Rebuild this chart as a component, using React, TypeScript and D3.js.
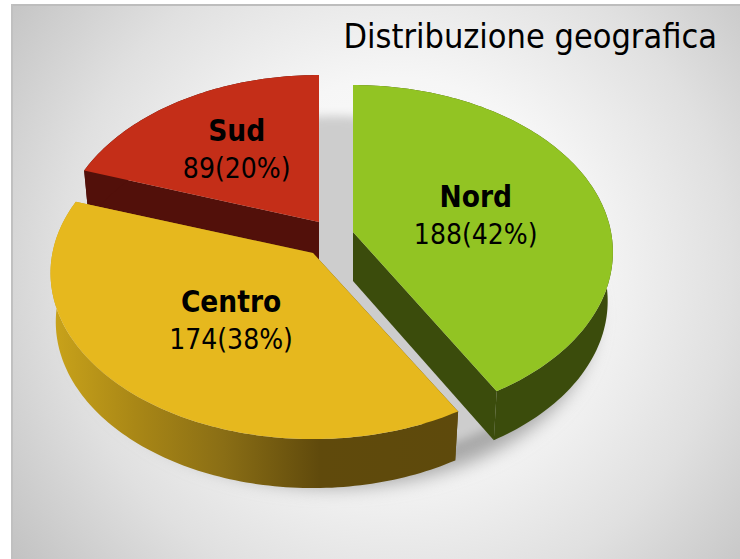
import React from "react";
import * as d3 from "d3";

const categories = ["Nord", "Centro", "Sud"];
const values = [188, 174, 89];
const percents = [42, 38, 20];
const topColors = ["#92c423", "#e6b81e", "#c42e18"];
const sideColors = ["#3b4c0c", "url(#centroSide)", "#52100a"];

const width = 740;
const height = 559;

// where each exploded slice sits on the page (apex, size, label distance)
const layout = [
  { cx: 353, cy: 232, scale: 1, sy: 1, labelR: 0.5, labelDx: 0, labelDy: 3.5, order: 1 },
  { cx: 313, cy: 253, scale: 1.01, sy: 0.985, labelR: 0.5, labelDx: 5, labelDy: 0.5, order: 2 },
  { cx: 319, cy: 222, scale: 1, sy: 1, labelR: 0.58, labelDx: 0, labelDy: 0.5, order: 0 },
];

const R = 258;
const S = 164.6;
const K = 0.12;
const DEPTH = 49;

type Pose = { cx: number; cy: number; scale: number; sy: number };

// disc coordinates -> page, with a bit of perspective (far edge is smaller)
const project = (a: number, r: number, z: number, l: Pose): [number, number] => {
  const u = Math.sin(a) * r;
  const v = Math.cos(a) * r;
  const w = 1 + K * v;
  return [
    l.cx + (l.scale * R * u * (1 - 0.02 * z)) / w,
    l.cy - (l.scale * l.sy * S * v) / w + DEPTH * z,
  ];
};

const line = d3.line<[number, number]>();

const arcAngles = (a0: number, a1: number) => {
  const n = Math.ceil(Math.abs(a1 - a0) / 0.02);
  const t = d3.scaleLinear().domain([0, n]).range([a0, a1]);
  return d3.range(n + 1).map((i) => t(i));
};

const App = () => {
  const pie = d3.pie<number>().sort(null).startAngle(0).endAngle(2 * Math.PI);
  const slices = pie(values).map((d, i) => ({ ...d, i, l: layout[i] }));
  const drawOrder = [...slices].sort((a, b) => a.l.order - b.l.order);

  const topPath = (s: (typeof slices)[number]) => {
    const pts = arcAngles(s.startAngle, s.endAngle).map((a) => project(a, 1, 0, s.l));
    return line([project(0, 0, 0, s.l), ...pts]) + "Z";
  };
  const outerWall = (s: (typeof slices)[number]) => {
    const angles = arcAngles(s.startAngle, s.endAngle);
    const up = angles.map((a) => project(a, 1, 0, s.l));
    const down = angles.map((a) => project(a, 1, 1, s.l)).reverse();
    return line([...up, ...down]) + "Z";
  };
  const radialWall = (s: (typeof slices)[number], a: number) =>
    line([project(0, 0, 0, s.l), project(a, 1, 0, s.l), project(a, 1, 1, s.l), project(0, 0, 1, s.l)]) + "Z";

  const ring = arcAngles(0, 2 * Math.PI);
  const ringPath = (z: number, pose: Pose) => line(ring.map((a) => project(a, 1, z, pose))) + "Z";
  const darkPose = { cx: 334, cy: 236, scale: 1.03, sy: 1 };
  const lightPose = { cx: 334, cy: 236, scale: 1.0, sy: 1 };

  return (
    <svg
      width={width}
      height={height}
      viewBox={`0 0 ${width} ${height}`}
      style={{ position: "absolute", left: 0, top: 0, background: "#fff" }}
    >
      <defs>
        <radialGradient id="panelBg" gradientUnits="userSpaceOnUse" cx={395} cy={270} r={480}>
          <stop offset="0" stopColor="#ffffff" />
          <stop offset="0.4" stopColor="#f6f6f6" />
          <stop offset="0.7" stopColor="#e0e0e0" />
          <stop offset="1" stopColor="#c2c2c2" />
        </radialGradient>
        <linearGradient id="centroSide" gradientUnits="userSpaceOnUse" x1={55} x2={456} y1={0} y2={0}>
          <stop offset="0" stopColor="#c8a21a" />
          <stop offset="0.2" stopColor="#a98716" />
          <stop offset="0.42" stopColor="#8a6e15" />
          <stop offset="0.66" stopColor="#604a0c" />
          <stop offset="1" stopColor="#5e4a0c" />
        </linearGradient>
        <filter id="soft" x="-20%" y="-20%" width="140%" height="140%">
          <feGaussianBlur stdDeviation="9" />
        </filter>
        <filter id="softer" x="-20%" y="-20%" width="140%" height="140%">
          <feGaussianBlur stdDeviation="5" />
        </filter>
        <clipPath id="shadowClip">
          <rect x={26} y={100} width={616} height={408} />
        </clipPath>
      </defs>

      <rect x={11} y={4} width={729} height={555} fill="url(#panelBg)" />
      <rect x={11} y={4} width={729} height={2} fill="#bdbdbd" />
      <rect x={11} y={4} width={2} height={555} fill="#c0c0c0" />

      <g clipPath="url(#shadowClip)">
        <path d={ringPath(1.2, darkPose)} fill="#a8a8a8" filter="url(#soft)" />
        <g fill="#cdcdcd" filter="url(#softer)">
          <path d={ringPath(0.55, lightPose)} />
          <path d={ringPath(0.8, lightPose)} />
        </g>
      </g>

      {drawOrder.map((s) => (
        <g key={categories[s.i]}>
          <path d={radialWall(s, s.startAngle)} fill={sideColors[s.i]} />
          <path d={radialWall(s, s.endAngle)} fill={sideColors[s.i]} />
          <path d={outerWall(s)} fill={sideColors[s.i]} />
          <path d={topPath(s)} fill={topColors[s.i]} />
        </g>
      ))}

      <text
        x={717}
        y={48}
        textAnchor="end"
        fontFamily="'DejaVu Sans Condensed', 'DejaVu Sans'"
        fontStretch="condensed"
        fontSize={34}
        fill="#000"
      >
        Distribuzione geografica
      </text>

      {slices.map((s) => {
        const [px, py] = project((s.startAngle + s.endAngle) / 2, s.l.labelR, 0, s.l);
        const x = px + s.l.labelDx;
        const y = py + s.l.labelDy;
        return (
          <text
            key={categories[s.i]}
            x={x}
            y={y}
            textAnchor="middle"
            fontFamily="'DejaVu Sans Condensed', 'DejaVu Sans'"
            fontStretch="condensed"
            fontSize={28}
            fill="#000"
          >
            <tspan x={x} dy={-8} fontWeight="bold" fontSize={29.5}>
              {categories[s.i]}
            </tspan>
            <tspan x={x} dy={37}>
              {`${values[s.i]}(${percents[s.i]}%)`}
            </tspan>
          </text>
        );
      })}
    </svg>
  );
};

export default App;
